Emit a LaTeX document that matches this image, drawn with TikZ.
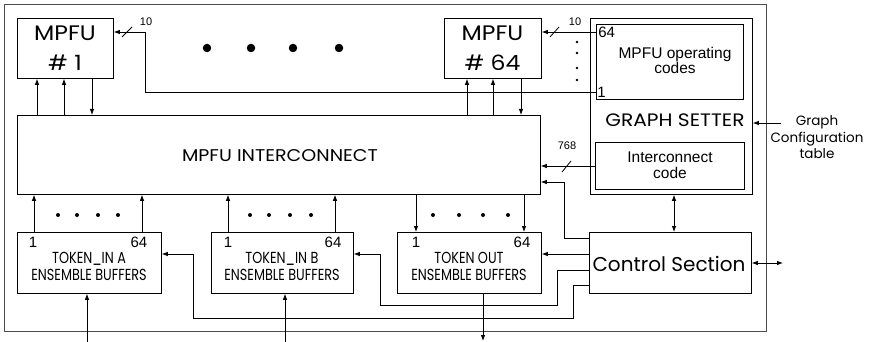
\documentclass[tikz,border=0pt]{standalone}
\usepackage{fontspec}
\setmainfont{Liberation Sans}
\newfontfamily\goth{Poppins}
\newfontfamily\gothw[FakeStretch=1.12]{Poppins}
\newfontfamily\gothc[FakeStretch=0.8]{Poppins}
\usetikzlibrary{arrows.meta,calc}
\newcommand{\fsz}[1]{\fontsize{#1}{#1}\selectfont}
\begin{document}
\begin{tikzpicture}[x=1pt,y=-1pt,line width=0.8pt,
  box/.style={draw,rectangle,inner sep=0pt,anchor=north west},
  arr/.style={-{Latex[length=6pt,width=4.5pt]}},
  darr/.style={{Latex[length=6pt,width=4.5pt]}-{Latex[length=6pt,width=4.5pt]}},
  bigdot/.style={fill,circle,inner sep=0pt,minimum size=8.5pt},
  smdot/.style={fill,circle,inner sep=0pt,minimum size=4pt},
  vdot/.style={fill,circle,inner sep=0pt,minimum size=2.6pt},
  num/.style={font=\fsz{15}, inner sep=0pt},
  bus/.style={font=\fsz{11}, inner sep=0pt},
  lab/.style={align=center,inner sep=0pt}]
\useasboundingbox (0,0) rectangle (873,342);
% outer frame
\node[box,draw=black!70,minimum width=762pt,minimum height=327pt] (frame) at (4,4) {};
% MPFU boxes
\node[box,minimum width=96pt,minimum height=60pt] (m1) at (17,18) {};
\node[lab,font=\gothw\fsz{21}] at (65,33) {MPFU};
\node[lab,font=\gothw\fsz{21}] at (65,63) {\# 1};
\node[box,minimum width=97pt,minimum height=60pt] (m64) at (444,18) {};
\node[lab,font=\gothw\fsz{21}] at (492.5,33) {MPFU};
\node[lab,font=\gothw\fsz{21}] at (492.5,63) {\# 64};
% interconnect
\node[box,minimum width=523pt,minimum height=79pt] (ic) at (17,115) {};
\node[lab,font=\gothw\fsz{17}] (ictext) at (280,156) {MPFU INTERCONNECT};
% graph setter
\node[box,minimum width=162pt,minimum height=176pt] (gs) at (590,18) {};
\node[box,minimum width=147pt,minimum height=75pt] (opc) at (596,24) {};
\node[lab,font=\fsz{15.5}] at (675,60.5) {MPFU operating\\[-1pt]codes};
\node[num,anchor=west] (op64) at (598,32) {64};
\node[num,anchor=west] (op1) at (597,92) {1};
\node[lab,font=\gothw\fsz{18}] (gstext) at (675,120) {GRAPH SETTER};
\node[box,minimum width=149pt,minimum height=47pt] (icc) at (595,142) {};
\node[lab,font=\fsz{15.5}] at (670,165) {Interconnect\\[0pt]code};
% graph configuration table
\node[lab,font=\goth\fsz{13.5},align=center] (gct) at (817,137) {Graph\\[2pt]Configuration\\[2pt]table};
% control section
\node[box,minimum width=162pt,minimum height=61pt] (cs) at (589,232) {};
\node[lab,font=\goth\fsz{20}] at (669,264) {Control Section};
% token buffers
\node[box,minimum width=144pt,minimum height=61pt] (ta) at (17,232) {};
\node[box,minimum width=142pt,minimum height=61pt] (tb) at (211,232) {};
\node[box,minimum width=144pt,minimum height=61pt] (to) at (397,232) {};
\node[lab,font=\gothc\fsz{16}] at (89,266.5) {TOKEN\_IN A\\[1pt]ENSEMBLE BUFFERS};
\node[lab,font=\gothc\fsz{16}] at (282,266.5) {TOKEN\_IN B\\[1pt]ENSEMBLE BUFFERS};
\node[lab,font=\gothc\fsz{16}] at (469,266.5) {TOKEN OUT\\[1pt]ENSEMBLE BUFFERS};
\node[num] at (33,242) {1};
\node[num] at (139,242) {64};
\node[num] at (228,242) {1};
\node[num] at (333,242) {64};
\node[num] at (416,242) {1};
\node[num] at (522,242) {64};
% big dots
\foreach \x/\n in {207/a,251/b,293/c,339/d} \node[bigdot] (bd\n) at (\x,48) {};
% token dots
\foreach \x in {58,77,98,118,250,269,290,311,433,459,483,508} \node[smdot] at (\x,215) {};
% vertical dots
\foreach \y in {42,53,68,80} \node[vdot] at (577,\y) {};
% MPFU <-> interconnect
\foreach \x in {37,64,467,493} \draw[arr] (\x,0 |- ic.north) -- (\x,0 |- m1.south);
\draw[arr] (92,0 |- m1.south) -- (92,0 |- ic.north);
\draw[arr] (521,0 |- m64.south) -- (521,0 |- ic.north);
% token <-> interconnect
\foreach \x in {34,142} \draw[arr] (\x,0 |- ta.north) -- (\x,0 |- ic.south);
\foreach \x in {228,335} \draw[arr] (\x,0 |- tb.north) -- (\x,0 |- ic.south);
\foreach \x in {416,524} \draw[arr] (\x,0 |- ic.south) -- (\x,0 |- to.north);
% external token lines
\coordinate (ina) at (87,342);
\coordinate (inb) at (285,342);
\coordinate (outo) at (483,341);
\draw[arr] (ina) -- (ina |- ta.south);
\draw[arr] (inb) -- (inb |- tb.south);
\draw[arr] (outo |- to.south) -- (outo);
% opcode buses
\draw[arr] (opc.west |- 0,92) -- (145,92) -- (145,32) -- (m1.east |- 0,32);
\draw (122,37) -- (132,27);
\node[bus] at (146,22) {10};
\draw[arr] (opc.west |- 0,32) -- (m64.east |- 0,32);
\draw (550,37) -- (559,27);
\node[bus] at (575,22) {10};
% interconnect code bus
\draw[arr] (icc.west |- 0,166) -- (ic.east |- 0,166);
\draw (562,172) -- (571,161);
\node[bus] at (567,146) {768};
% graph config
\coordinate (gcin) at (781,123);
\draw[arr] (gcin) -- (gs.east |- gcin);
% graph setter <-> control
\draw[darr] (674,0 |- gs.south) -- (674,0 |- cs.north);
% control external
\coordinate (csout) at (783,263);
\draw[darr] (cs.east |- csout) -- (csout);
% control connectors
\draw[arr] (cs.west |- 0,238) -- (564,238) -- (564,182) -- (ic.east |- 0,182);
\draw[arr] (cs.west |- 0,254) -- (to.east |- 0,254);
\draw[arr] (cs.west |- 0,270) -- (557,270) -- (557,305) -- (380,305) -- (380,254) -- (tb.east |- 0,254);
\draw[arr] (cs.west |- 0,285) -- (573,285) -- (573,318) -- (193,318) -- (193,254) -- (ta.east |- 0,254);
\end{tikzpicture}
\end{document}
